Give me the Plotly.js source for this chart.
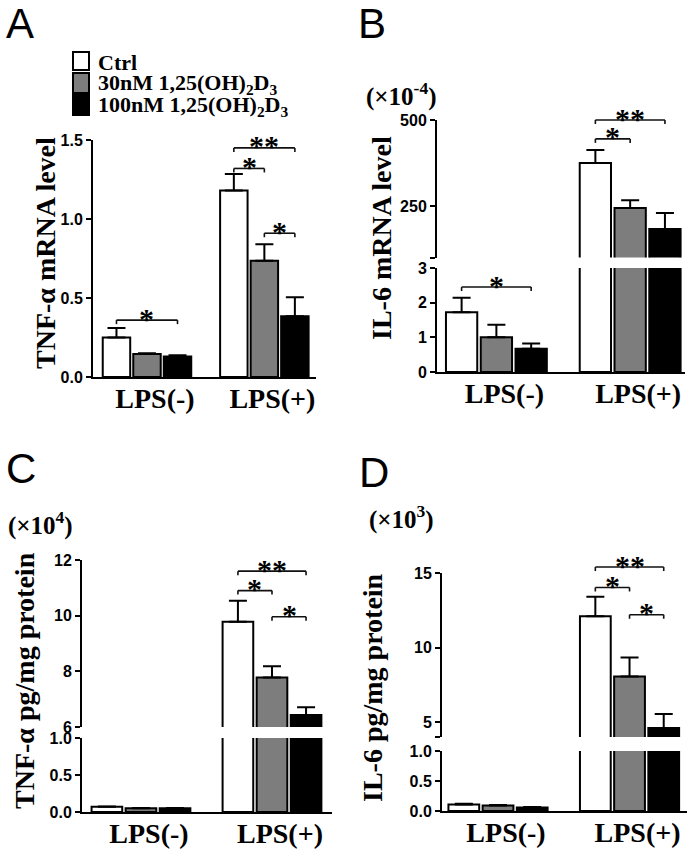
<!DOCTYPE html>
<html><head><meta charset="utf-8">
<script src="https://cdn.plot.ly/plotly-3.0.1.min.js"></script>
<style>html,body{margin:0;padding:0;background:#fff;}#chart{width:693px;height:852px;}</style>
</head><body><div id="chart"></div>
<script>
// ---------------- data ----------------
const categories = ["LPS(-)", "LPS(+)"];
const seriesNames = ["Ctrl", "30nM 1,25(OH)<sub>2</sub>D<sub>3</sub>", "100nM 1,25(OH)<sub>2</sub>D<sub>3</sub>"];

// A: TNF-α mRNA level
const tnfMrnaCtrl = [0.25, 1.18];
const tnfMrna30 = [0.145, 0.735];
const tnfMrna100 = [0.13, 0.385];
const tnfMrnaErrCtrl = [0.06, 0.105];
const tnfMrnaErr30 = [0.006, 0.105];
const tnfMrnaErr100 = [0.008, 0.12];

// B: IL-6 mRNA level (x10^-4)
const il6MrnaCtrl = [1.72, 375];
const il6Mrna30 = [1.0, 244];
const il6Mrna100 = [0.67, 183];
const il6MrnaErrCtrl = [0.42, 38];
const il6MrnaErr30 = [0.36, 23];
const il6MrnaErr100 = [0.15, 47];

// C: TNF-α pg/mg protein (x10^4)
const tnfProtCtrl = [0.07, 9.78];
const tnfProt30 = [0.05, 7.78];
const tnfProt100 = [0.05, 6.43];
const tnfProtErrCtrl = [0.005, 0.76];
const tnfProtErr30 = [0.004, 0.4];
const tnfProtErr100 = [0.004, 0.28];

// D: IL-6 pg/mg protein (x10^3)
const il6ProtCtrl = [0.11, 12.1];
const il6Prot30 = [0.09, 8.05];
const il6Prot100 = [0.06, 4.6];
const il6ProtErrCtrl = [0.01, 1.3];
const il6ProtErr30 = [0.01, 1.28];
const il6ProtErr100 = [0.006, 0.94];

// tick labels
const ticksA = [0, 0.5, 1.0, 1.5];          const ticksAText = ["0.0", "0.5", "1.0", "1.5"];
const ticksBLow = [0, 1, 2, 3];              const ticksBLowText = ["0", "1", "2", "3"];
const ticksBHigh = [100, 250, 500];          const ticksBHighText = ["", "250", "500"];
const ticksCLow = [0, 0.5, 1.0];             const ticksCLowText = ["0.0", "0.5", "1.0"];
const ticksCHigh = [6, 8, 10, 12];           const ticksCHighText = ["6", "8", "10", "12"];
const ticksDLow = [0, 0.5, 1.0];             const ticksDLowText = ["0.0", "0.5", "1.0"];
const ticksDHigh = [4, 5, 10, 15];           const ticksDHighText = ["", "5", "10", "15"];

// significance comparisons: [category, fromBar, toBar, level, label]
const sigA = [[0, 0, 2, 0.36, "*"], [1, 0, 2, 1.45, "**"], [1, 0, 1, 1.32, "*"], [1, 1, 2, 0.91, "*"]];
const sigBLow = [[0, 0, 2, 2.45, "*"]];
const sigBHigh = [[1, 0, 2, 500, "**"], [1, 0, 1, 445, "*"]];
const sigCHigh = [[1, 0, 2, 11.6, "**"], [1, 0, 1, 10.9, "*"], [1, 1, 2, 9.96, "*"]];
const sigDHigh = [[1, 0, 2, 15.4, "**"], [1, 0, 1, 14.03, "*"], [1, 1, 2, 12.2, "*"]];

// ---------------- styling / layout ----------------
const W = 693, H = 852;
const px = x => x / W, py = y => 1 - y / H;
const SERIF = '"Liberation Serif", "Times New Roman", serif';
const SANS = '"Liberation Sans", Arial, sans-serif';
const TICKFONT = {family: SANS, size: 16, color: '#000', weight: 'bold'};
const XFONT = {family: SERIF, size: 28, color: '#000', weight: 'bold'};
const BARGAP = 0.22, BARGROUPGAP = 0.1;
const fills = ['#ffffff', '#7d7d7d', '#000000'];

const traces = [];
function addBars(xa, ya, vals, errs) {
  for (let i = 0; i < 3; i++) {
    traces.push({
      type: 'bar', x: categories, y: vals[i], xaxis: xa, yaxis: ya, name: seriesNames[i],
      showlegend: false, hoverinfo: 'skip',
      marker: {color: fills[i], line: {color: '#000', width: 2}},
      error_y: {type: 'data', array: errs[i], arrayminus: [0, 0], symmetric: false,
                color: '#000', thickness: 2, width: 9}
    });
  }
}
const A_vals = [tnfMrnaCtrl, tnfMrna30, tnfMrna100], A_err = [tnfMrnaErrCtrl, tnfMrnaErr30, tnfMrnaErr100];
const B_vals = [il6MrnaCtrl, il6Mrna30, il6Mrna100], B_err = [il6MrnaErrCtrl, il6MrnaErr30, il6MrnaErr100];
const C_vals = [tnfProtCtrl, tnfProt30, tnfProt100], C_err = [tnfProtErrCtrl, tnfProtErr30, tnfProtErr100];
const D_vals = [il6ProtCtrl, il6Prot30, il6Prot100], D_err = [il6ProtErrCtrl, il6ProtErr30, il6ProtErr100];
addBars('x', 'y', A_vals, A_err);
addBars('x2', 'y2', B_vals, B_err);
addBars('x2', 'y3', B_vals, B_err);
addBars('x3', 'y4', C_vals, C_err);
addBars('x3', 'y5', C_vals, C_err);
addBars('x4', 'y6', D_vals, D_err);
addBars('x4', 'y7', D_vals, D_err);

function xAx(l, r, range, anchor) {
  return {domain: [px(l), px(r)], range: range, type: 'category', anchor: anchor,
    showline: true, linewidth: 2, linecolor: '#000', ticks: '', showgrid: false, zeroline: false,
    tickfont: XFONT, ticklabelshift: 8, ticklabelstandoff: -5, fixedrange: true};
}
function yAx(bot, top, range, tv, tt, anchor) {
  return {domain: [py(bot), py(top)], range: range, tickmode: 'array', tickvals: tv, ticktext: tt,
    anchor: anchor, showline: true, linewidth: 2, linecolor: '#000', ticks: 'outside', ticklen: 5,
    tickwidth: 2, tickcolor: '#000', showgrid: false, zeroline: false, tickfont: TICKFONT, fixedrange: true};
}

const axes = {
  xaxis:  xAx(93, 316, [-0.46, 1.44], 'y'),
  yaxis:  yAx(377, 140, [0, 1.5], ticksA, ticksAText, 'x'),
  xaxis2: xAx(437, 685, [-0.444, 1.41], 'y2'),
  yaxis2: yAx(372, 268, [0, 3], ticksBLow, ticksBLowText, 'x2'),
  yaxis3: yAx(257.6, 120, [100, 500], ticksBHigh, ticksBHighText, 'x2'),
  xaxis3: xAx(82, 332, [-0.45, 1.458], 'y4'),
  yaxis4: yAx(812, 738, [0, 1], ticksCLow, ticksCLowText, 'x3'),
  yaxis5: yAx(727, 560, [6, 12], ticksCHigh, ticksCHighText, 'x3'),
  xaxis4: xAx(442, 687, [-0.426, 1.437], 'y6'),
  yaxis6: yAx(811, 751, [0, 1], ticksDLow, ticksDLowText, 'x4'),
  yaxis7: yAx(737, 573, [4, 15], ticksDHigh, ticksDHighText, 'x4'),
};

const shapes = [], annotations = [];
function axName(id) { return id.length === 1 ? id + 'axis' : id[0] + 'axis' + id.slice(1); }
function addSig(list, xa, ya) {
  const xr = axes[axName(xa)].range, yr = axes[axName(ya)].range;
  const slot = (1 - BARGAP) / 3;
  const fx = v => (v - xr[0]) / (xr[1] - xr[0]);
  const fy = v => (v - yr[0]) / (yr[1] - yr[0]);
  const xref = xa + ' domain', yref = ya + ' domain';
  list.forEach(([cat, b0, b1, lvl, lab]) => {
    const x0 = fx(cat + (b0 - 1) * slot), x1 = fx(cat + (b1 - 1) * slot), y = fy(lvl);
    const ln = {color: '#111', width: 1.6};
    shapes.push({type: 'line', xref, yref, x0, x1, y0: y, y1: y, line: ln});
    [x0, x1].forEach(xx => shapes.push({type: 'line', xref, yref, ysizemode: 'pixel', yanchor: y,
      x0: xx, x1: xx, y0: 0, y1: -4, line: ln}));
    annotations.push({xref, yref, x: (x0 + x1) / 2, y: y, text: lab, showarrow: false,
      xanchor: 'center', yanchor: 'middle', yshift: 2,
      font: {family: SERIF, size: 30, color: '#000', weight: 'bold'}});
  });
}
addSig(sigA, 'x', 'y');
addSig(sigBLow, 'x2', 'y2');
addSig(sigBHigh, 'x2', 'y3');
addSig(sigCHigh, 'x3', 'y5');
addSig(sigDHigh, 'x4', 'y7');

// panel letters
[['A', 4, -2], ['B', 356, -2], ['C', 4, 443], ['D', 357, 447]].forEach(([t, x, y]) =>
  annotations.push({xref: 'paper', yref: 'paper', x: px(x), y: py(y), xanchor: 'left', yanchor: 'top',
    text: t, showarrow: false, font: {family: SANS, size: 42, color: '#000'}}));

// y titles
[['TNF-α mRNA level', 45, 253], ['IL-6 mRNA level', 382, 238],
 ['TNF-α pg/mg protein', 24, 681], ['IL-6 pg/mg protein', 372, 688]].forEach(([t, x, y]) =>
  annotations.push({xref: 'paper', yref: 'paper', x: px(x), y: py(y), xanchor: 'center', yanchor: 'middle',
    text: t, textangle: -90, showarrow: false, font: {family: SERIF, size: 28, color: '#000', weight: 'bold'}}));

// multipliers
[['(×10<sup>-4</sup>)', 401, 94], ['(×10<sup>4</sup>)', 40, 523], ['(×10<sup>3</sup>)', 401, 517]].forEach(([t, x, y]) =>
  annotations.push({xref: 'paper', yref: 'paper', x: px(x), y: py(y), xanchor: 'center', yanchor: 'middle',
    text: t, showarrow: false, font: {family: SERIF, size: 25, color: '#000', weight: 'bold'}}));

// legend (panel A)
const legRows = [[52, 70, 62], [73, 93, 84], [95, 115, 106]];
legRows.forEach(([t, b, c], i) => {
  shapes.push({type: 'rect', xref: 'paper', yref: 'paper', x0: px(73), x1: px(89), y0: py(b), y1: py(t),
    fillcolor: fills[i], line: {color: '#000', width: 2}});
  annotations.push({xref: 'paper', yref: 'paper', x: px(96), y: py(c), xanchor: 'left', yanchor: 'middle',
    text: seriesNames[i], showarrow: false, font: {family: SERIF, size: 22, color: '#000', weight: 'bold'}});
});

const layout = Object.assign({
  width: W, height: H, margin: {l: 0, r: 0, t: 0, b: 0},
  paper_bgcolor: '#fff', plot_bgcolor: 'rgba(0,0,0,0)',
  barmode: 'group', bargap: BARGAP, bargroupgap: BARGROUPGAP,
  showlegend: false, shapes: shapes, annotations: annotations
}, axes);

Plotly.newPlot('chart', traces, layout, {staticPlot: true, displayModeBar: false});
</script>
</body></html>
